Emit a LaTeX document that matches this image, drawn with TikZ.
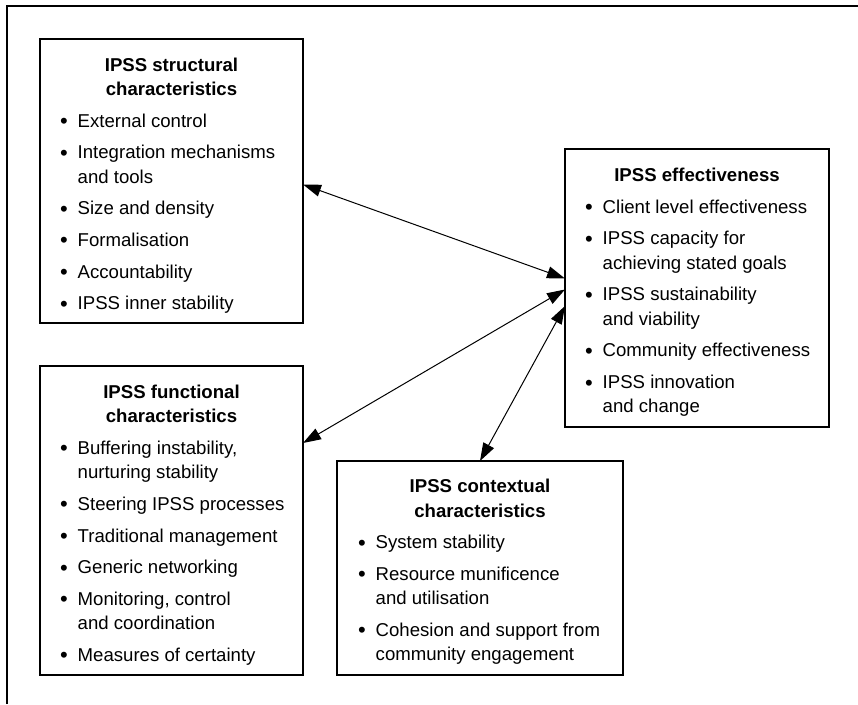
\documentclass[tikz,border=0pt]{standalone}
\usepackage{fontspec}
\setmainfont{Liberation Sans}
\usetikzlibrary{arrows.meta,calc}

% box heading, centred over the box
\newcommand{\boxtitle}[1]{{\centering\bfseries #1\par}}
% bullet mark, set in its own fixed-width slot
\newcommand{\bmark}{\makebox[17.7pt][l]{\raisebox{-1.5pt}{\fontsize{22}{22}\selectfont\textbullet}}}
% one-line bulleted entry
\newcommand{\bitem}[1]{\par\noindent\bmark\mbox{#1}}
% two-line bulleted entry; second line hangs under the text
\newcommand{\bitemii}[2]{\par\noindent\hangindent=17.7pt\hangafter=1\bmark\mbox{#1}\newline\mbox{#2}}
% text block of a box: first baseline is the node's baseline
\newcommand{\boxbody}[2]{\parbox[t]{#1}{\fontsize{18.6}{24.3}\selectfont\raggedright\setlength{\parskip}{7.4pt}\hfuzz=60pt\hbadness=10000 #2}}

\tikzset{
  panel/.style={draw, line width=1.2pt, inner sep=0pt, outer sep=0pt, anchor=north west},
  txt/.style={inner sep=0pt, outer sep=0pt, anchor=base west},
  link/.style={line width=1pt, {Triangle[length=18pt,width=12pt]}-{Triangle[length=18pt,width=12pt]}},
}

\begin{document}
\begin{tikzpicture}[x=1pt,y=-1pt]
\useasboundingbox (0,0) rectangle (858,704);

% outer frame (top and left rules)
\coordinate (fb) at (7,704);
\coordinate (fc) at (7,6);
\coordinate (fr) at (858,6);
\draw[line width=1.5pt] (fb) -- (fc) -- (fr);

% structural characteristics
\node[panel, minimum width=263pt, minimum height=284pt] (s) at (40,39) {};
\node[txt] (st) at ($(s.north west)+(20pt,-32pt)$) {\boxbody{223pt}{%
  \boxtitle{IPSS structural\\characteristics}
  \bitem{External control}
  \bitemii{Integration mechanisms}{and tools}
  \bitem{Size and density}
  \bitem{Formalisation}
  \bitem{Accountability}
  \bitem{IPSS inner stability}}};

% effectiveness
\node[panel, minimum width=264pt, minimum height=278pt] (e) at (565,149) {};
\node[txt] (et) at ($(e.north west)+(20pt,-32.5pt)$) {\boxbody{224pt}{%
  \boxtitle{IPSS effectiveness}
  \bitem{Client level effectiveness}
  \bitemii{IPSS capacity for}{achieving stated goals}
  \bitemii{IPSS sustainability}{and viability}
  \bitem{Community effectiveness}
  \bitemii{IPSS innovation}{and change}}};

% functional characteristics
\node[panel, minimum width=263pt, minimum height=309pt] (f) at (40,366) {};
\node[txt] (ft) at ($(f.north west)+(20pt,-32.3pt)$) {\boxbody{223pt}{%
  \boxtitle{IPSS functional\\characteristics}
  \bitemii{Buffering instability,}{nurturing stability}
  \bitem{Steering IPSS processes}
  \bitem{Traditional management}
  \bitem{Generic networking}
  \bitemii{Monitoring, control}{and coordination}
  \bitem{Measures of certainty}}};

% contextual characteristics
\node[panel, minimum width=286pt, minimum height=214pt] (c) at (337,461) {};
\node[txt] (ct) at ($(c.north west)+(21pt,-31.7pt)$) {\boxbody{244pt}{%
  \boxtitle{IPSS contextual\\characteristics}
  \bitem{System stability}
  \bitemii{Resource munificence}{and utilisation}
  \bitemii{Cohesion and support from}{community engagement}}};

% two-way links to effectiveness
\draw[link] ([yshift=-3.5pt]s.east) -- ([yshift=9.5pt]e.west);
\draw[link] ([yshift=-77pt]f.north east) -- ([yshift=-1.5pt]e.west);
\draw[link] (c.north) -- ([yshift=-18pt]e.west);
\end{tikzpicture}
\end{document}
